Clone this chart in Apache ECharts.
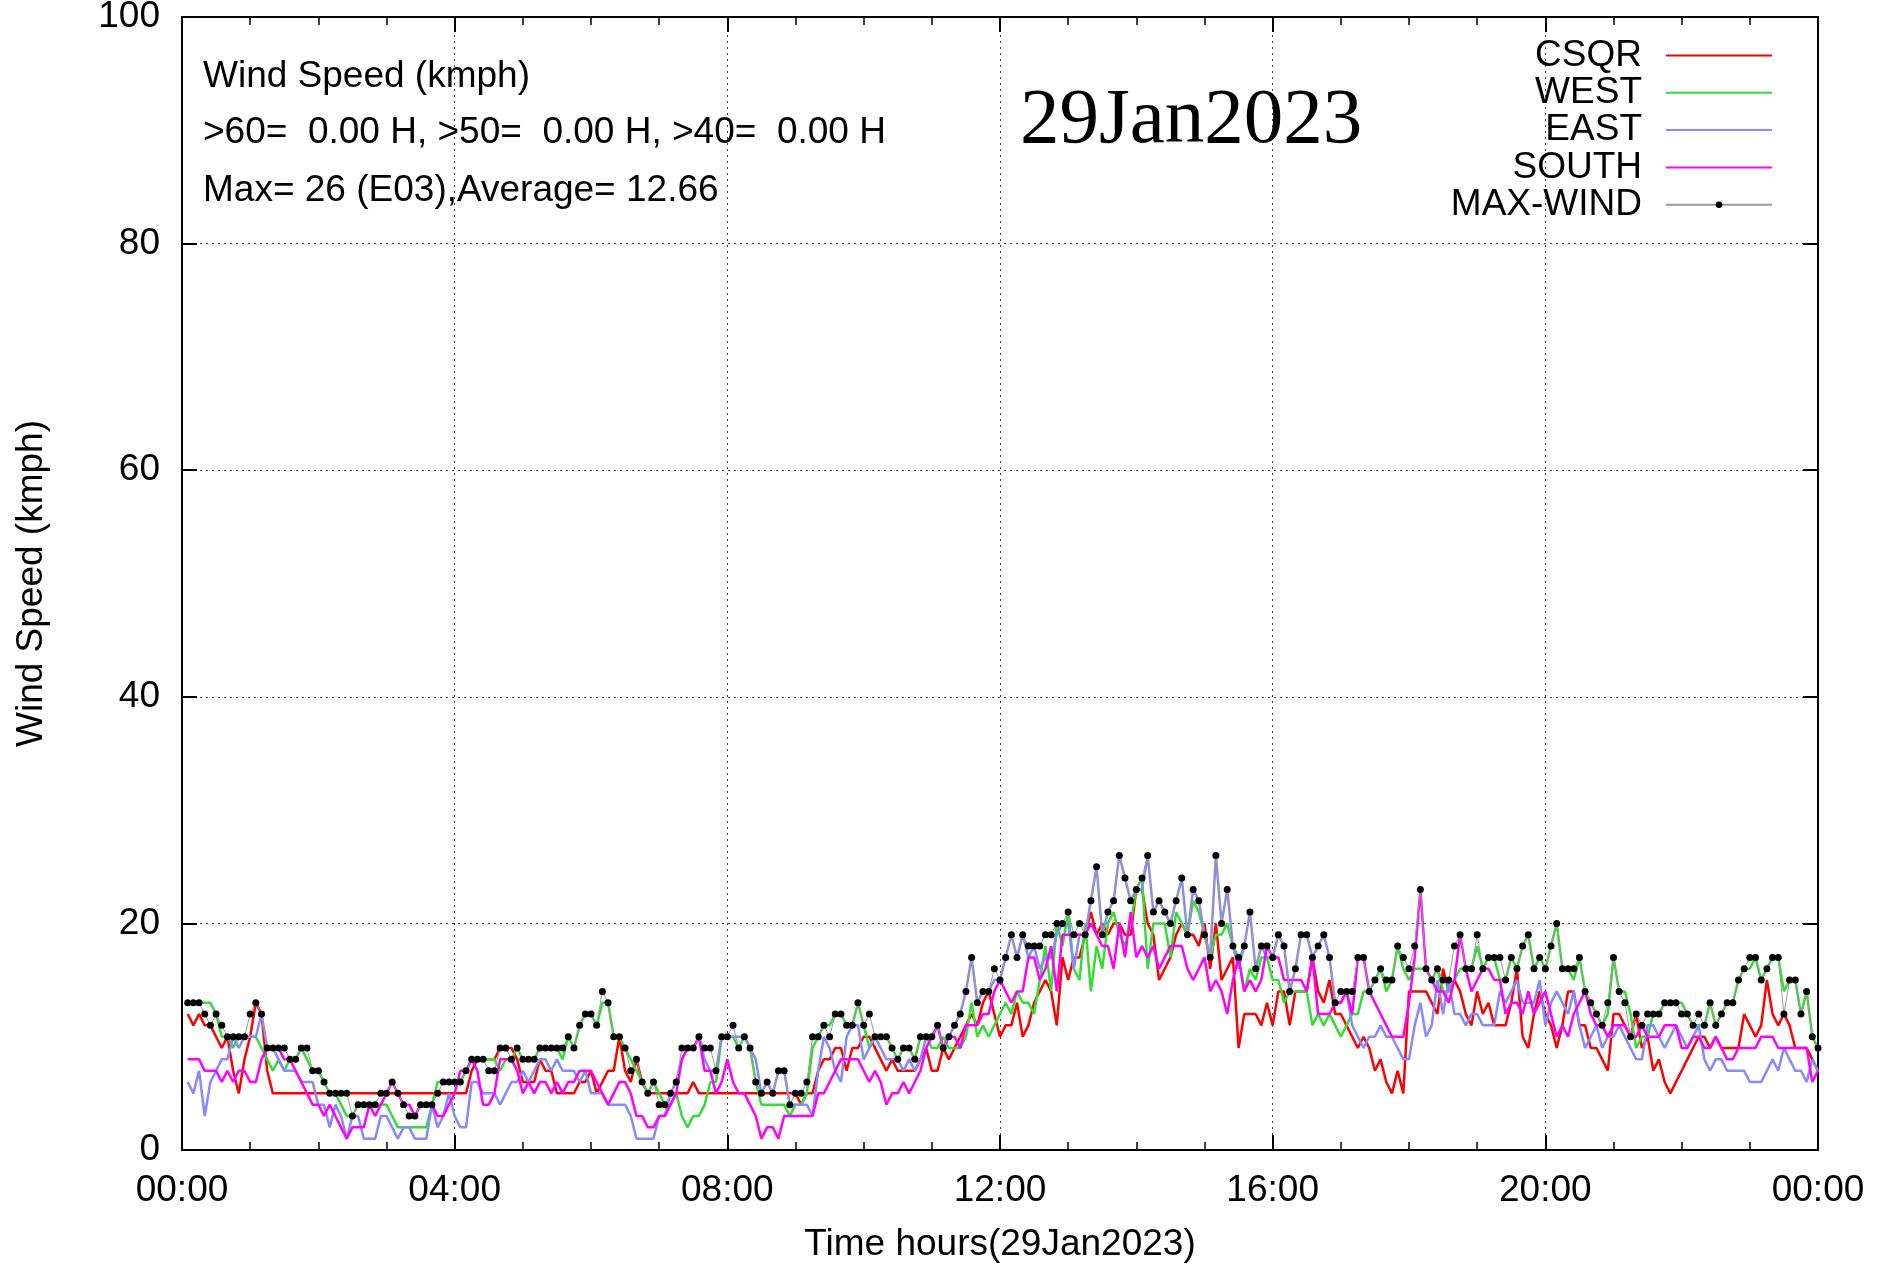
<!DOCTYPE html>
<html><head><meta charset="utf-8">
<script src="https://cdn.jsdelivr.net/npm/echarts@6/dist/echarts.min.js"></script>
<style>html,body{margin:0;padding:0;background:#fff}#c{width:1886px;height:1264px}</style>
</head><body><div id="c"></div>
<script>
// time base: first sample 00:05, 5-minute step, last sample 24:00
const START_MIN = 5, STEP_MIN = 5;

const CSQR = [
 12,11,12,11,11,10,9,10,7,5, 8,10,13,12,7,5,5,5,5,5, 5,5,5,5,5,5,5,5,5,5, 5,5,5,5,5,
 5,5,5,5,5,5,5,5,5,5, 5,5,5,5,5,7,8,8,8,8, 9,9,9,8,6,6,6,8,7,7, 5,5,5,5,6,6,
 7,5,6,7,7,10,7,6,8,6, 5,5,5,5,5,5,5,5,6,5, 5,5,5,5,5,5,5,5,5,5, 5,5,5,5,5,5,
 5,4,5,5,7,8,8,9,9,7, 9,9,10,10,9,8,7,8,7,7, 7,7,8,9,7,7,9,8,9,10, 11,12,11,13,14,12,
 10,11,11,13,10,11,13,14,15,14, 11,17,15,17,17,19,21,19,20,19, 20,20,19,19,23,23,20,19,15,16, 17,19,20,19,19,18,
 20,16,20,15,16,17,9,12,12,12, 11,13,11,14,14,11,14,14,14,17, 14,13,15,12,12,11,10,9,10,9, 7,8,6,5,7,5,
 14,14,14,14,13,12,16,14,15,14, 12,11,14,12,13,11,11,11,13,16, 10,9,12,14,12,11,9,11,14,14, 11,11,9,9,8,7,
 12,12,11,10,12,9,10,7,8,6, 5,6,7,8,9,10,10,9,10,9, 9,9,9,12,11,10,11,15,12,11, 12,11,9,9,9,8,7
];
const WEST = [
 13,13,13,13,13,12,10,10,9,10, 10,10,10,9,8,7,8,7,8,8, 9,8,7,7,6,5,5,4,3,3, 4,4,4,4,4,
 4,3,2,2,2,2,2,2,4,6, 6,6,6,6,7,8,8,8,8,8, 7,8,8,9,8,8,8,9,9,9, 9,8,10,9,11,12,
 12,11,13,13,10,10,9,8,7,6, 5,6,5,4,4,5,3,2,3,3, 4,6,6,10,10,10,9,10,9,6, 4,4,4,4,4,3,
 4,4,5,9,10,11,11,12,12,11, 11,13,11,9,10,10,10,9,8,9, 9,8,10,10,9,9,10,9,9,9, 10,13,10,11,10,11,
 12,13,12,14,13,13,12,15,18,14, 20,18,21,16,15,20,14,18,16,20, 21,19,18,20,23,24,16,20,20,20, 17,21,20,19,22,21,
 19,17,19,19,20,18,17,14,16,15, 17,17,15,15,13,14,14,14,14,11, 12,11,12,11,10,11,12,12,14,14, 15,16,14,15,18,16,
 15,16,16,16,15,16,14,14,15,16, 16,16,18,16,17,17,15,15,17,16, 18,19,16,17,16,18,20,16,16,15, 17,14,13,12,11,12,
 17,14,14,12,9,10,10,12,12,13, 13,13,13,12,11,11,11,13,11,12, 13,13,15,16,16,17,15,16,17,17, 14,15,15,12,14,10,9
];
const EAST = [
 6,5,7,3,6,7,8,8,10,9, 10,10,10,12,9,9,8,7,7,7, 6,6,6,4,4,2,4,3,1,3, 3,1,1,1,3,
 3,2,1,2,2,1,1,1,4,2, 3,5,3,2,2,6,6,5,5,5, 4,5,6,6,7,6,7,8,8,7, 8,7,7,7,6,7,
 5,5,5,4,4,4,4,3,1,1, 1,1,3,3,5,6,8,9,9,10, 8,7,7,10,10,10,10,10,9,8, 5,6,5,7,7,4,
 4,4,4,3,7,10,9,7,6,10, 11,11,8,9,10,9,8,8,8,7, 8,7,8,10,10,11,9,10,11,12, 14,17,13,14,14,15,
 15,17,19,17,19,17,18,16,17,17, 19,20,20,16,19,19,22,25,19,21, 22,26,24,22,23,23,26,21,22,21, 20,22,24,19,23,22,
 19,17,26,20,23,18,16,18,21,16, 18,17,17,19,18,14,16,19,19,17, 18,19,17,13,13,14,11,10,9,10, 10,11,10,10,9,8,
 8,11,13,10,11,15,12,15,12,12, 11,12,12,11,11,11,14,13,14,15, 13,13,13,15,11,13,14,13,12,14, 11,9,10,11,9,10,
 10,11,10,9,8,8,11,11,10,9, 10,11,10,9,10,11,8,7,8,8, 7,7,7,7,6,6,6,7,8,7, 9,8,7,7,6,8,7
];
const SOUTH = [
 8,8,8,7,7,7,6,7,6,7, 7,6,6,8,9,9,9,8,8,7, 6,5,4,4,3,4,3,2,1,2, 2,2,4,3,4,
 5,6,5,4,4,3,4,4,4,3, 3,4,5,7,7,8,7,4,4,5, 8,8,8,7,5,6,5,6,6,5, 6,5,6,6,7,7,
 7,6,5,4,5,6,6,5,3,3, 2,2,3,3,4,5,8,9,9,10, 7,7,5,6,8,6,5,5,4,3, 1,2,2,1,3,3,
 3,3,3,3,5,5,6,7,8,8, 8,8,7,6,7,6,4,5,5,6, 5,6,7,9,10,11,9,10,10,9, 11,11,11,12,12,14,
 15,14,13,14,14,17,17,15,16,18, 14,19,19,19,19,19,20,19,18,18, 16,20,17,21,17,18,17,18,16,17, 18,18,18,16,15,16,
 17,14,15,14,12,15,17,14,15,14, 15,18,17,17,15,15,15,15,14,17, 12,12,12,13,13,14,12,17,17,14, 13,12,11,10,10,10,
 13,17,23,16,15,14,14,13,15,19, 16,14,15,16,16,15,15,12,13,13, 12,14,12,13,14,12,10,11,10,12, 13,14,12,11,11,10,
 11,11,11,10,10,11,10,10,10,11, 11,11,9,9,10,10,9,9,10,9, 8,8,9,9,9,9,10,10,10,9, 9,9,9,9,9,6,7
];
const MAX_WIND = [
 13,13,13,12,11,12,11,10,10,10, 10,12,13,12,9,9,9,9,8,8, 9,9,7,7,6,5,5,5,5,3, 4,4,4,4,5,
 5,6,5,4,3,3,4,4,4,5, 6,6,6,6,7,8,8,8,7,7, 9,9,8,9,8,8,8,9,9,9, 9,9,10,9,11,12,
 12,11,14,13,10,10,9,7,8,6, 5,6,4,4,5,6,9,9,9,10, 9,9,7,10,10,11,9,10,9,6, 5,6,5,7,7,4,
 5,5,6,10,10,11,10,12,12,11, 11,13,11,12,10,10,10,9,8,9, 9,8,10,10,10,11,9,10,11,12, 14,17,13,14,14,16,
 15,17,19,17,19,18,18,18,19,19, 20,20,21,19,20,19,22,25,19,21, 22,26,24,22,23,24,26,21,22,21, 20,22,24,19,23,22,
 19,17,26,20,23,18,17,18,21,16, 18,18,17,19,18,14,16,19,19,17, 18,19,17,13,14,14,14,17,17,14, 15,16,15,15,18,17,
 16,18,23,16,15,16,15,15,18,19, 16,16,19,16,17,17,17,15,17,16, 18,19,16,17,16,18,20,16,16,16, 17,14,13,12,11,13,
 17,14,13,10,12,11,12,12,12,13, 13,13,12,12,11,12,11,13,11,12, 13,13,15,16,17,17,15,16,17,17, 12,15,15,12,14,10,9
];

const SERIES_NAMES = ['CSQR', 'WEST', 'EAST', 'SOUTH', 'MAX-WIND'];
const INFO_LINES = ['Wind Speed (kmph)', '>60=  0.00 H, >50=  0.00 H, >40=  0.00 H', 'Max= 26 (E03),Average= 12.66'];
const DATE_LABEL = '29Jan2023';
const X_TITLE = 'Time hours(29Jan2023)';
const Y_TITLE = 'Wind Speed (kmph)';

const FONT = '"Liberation Sans", Arial, sans-serif';
const FS = 37;
function toPairs(arr) { return arr.map((v, i) => [(START_MIN + i * STEP_MIN) / 60, v]); }
function hhmm(v) { return String(Math.round(v) % 24).padStart(2, '0') + ':00'; }

const chart = echarts.init(document.getElementById('c'), null, { renderer: 'canvas' });

const axisLine = { show: true, onZero: false, lineStyle: { color: '#000', width: 2 } };
const tick = { show: true, inside: true, length: 15, lineStyle: { color: '#000', width: 2 } };
const minor = { show: true, splitNumber: 4, length: 8, lineStyle: { color: '#000', width: 1.5 } };
const grid = { show: true, lineStyle: { color: '#444', width: 1, type: [2, 4] } };

function lineSeries(name, data, color, width) {
  return {
    name, type: 'line', data: toPairs(data), symbol: 'none', showSymbol: false,
    lineStyle: { color, width }, itemStyle: { color }, animation: false, silent: true
  };
}

const option = {
  animation: false,
  backgroundColor: '#fff',
  grid: { left: 182, right: 68, top: 17, bottom: 114, containLabel: false, outerBoundsMode: 'none' },
  xAxis: [
    { type: 'value', position: 'bottom', min: 0, max: 24, interval: 4,
      axisLine, axisTick: tick, minorTick: minor, splitLine: grid,
      axisLabel: { show: true, color: '#000', fontSize: FS, fontFamily: FONT, margin: 22, formatter: hhmm },
      name: X_TITLE, nameLocation: 'middle', nameGap: 76,
      nameTextStyle: { color: '#000', fontSize: FS, fontFamily: FONT } },
    { type: 'value', position: 'top', min: 0, max: 24, interval: 4,
      axisLine, axisTick: tick, minorTick: minor, splitLine: { show: false },
      axisLabel: { show: false } }
  ],
  yAxis: [
    { type: 'value', position: 'left', min: 0, max: 100, interval: 20,
      axisLine, axisTick: tick, splitLine: grid,
      axisLabel: { show: true, color: '#000', fontSize: FS, fontFamily: FONT, margin: 22 },
      name: Y_TITLE, nameLocation: 'middle', nameGap: 132, nameRotate: 90,
      nameTextStyle: { color: '#000', fontSize: FS, fontFamily: FONT } },
    { type: 'value', position: 'right', min: 0, max: 100, interval: 20,
      axisLine, axisTick: tick, splitLine: { show: false }, axisLabel: { show: false } }
  ],
  legend: {
    orient: 'vertical', right: 113, top: 37, align: 'right', padding: 0,
    itemWidth: 106, itemHeight: 8, itemGap: 0.3, selectedMode: false,
    textStyle: { fontSize: FS, fontFamily: FONT, color: '#000', lineHeight: 36, padding: [0, 19, 0, 0] },
    data: [
      { name: 'CSQR', itemStyle: { opacity: 0 } },
      { name: 'WEST', itemStyle: { opacity: 0 } },
      { name: 'EAST', itemStyle: { opacity: 0 } },
      { name: 'SOUTH', itemStyle: { opacity: 0 } },
      { name: 'MAX-WIND' }
    ]
  },
  graphic: [
    { type: 'text', x: 203, y: 77, z: 100, style: { text: INFO_LINES[0], font: FS + 'px ' + FONT, fill: '#000', verticalAlign: 'middle' } },
    { type: 'text', x: 203, y: 133, z: 100, style: { text: INFO_LINES[1], font: FS + 'px ' + FONT, fill: '#000', verticalAlign: 'middle' } },
    { type: 'text', x: 203, y: 191, z: 100, style: { text: INFO_LINES[2], font: FS + 'px ' + FONT, fill: '#000', verticalAlign: 'middle' } },
    { type: 'text', x: 1020, y: 121, z: 100, style: { text: DATE_LABEL, font: '79px "Liberation Serif", "Times New Roman", serif', fill: '#000', verticalAlign: 'middle' } }
  ],
  series: [
    lineSeries(SERIES_NAMES[0], CSQR, '#ff0000', 2.5),
    lineSeries(SERIES_NAMES[1], WEST, '#33dd33', 2.5),
    lineSeries(SERIES_NAMES[2], EAST, '#8888ff', 2.5),
    lineSeries(SERIES_NAMES[3], SOUTH, '#ff00ff', 2.5),
    { name: SERIES_NAMES[4], type: 'line', data: toPairs(MAX_WIND), symbol: 'circle', symbolSize: 7,
      showSymbol: true, showAllSymbol: true, silent: true,
      lineStyle: { color: '#999', width: 1 }, itemStyle: { color: '#000' } }
  ]
};
chart.setOption(option);
</script>
</body></html>
